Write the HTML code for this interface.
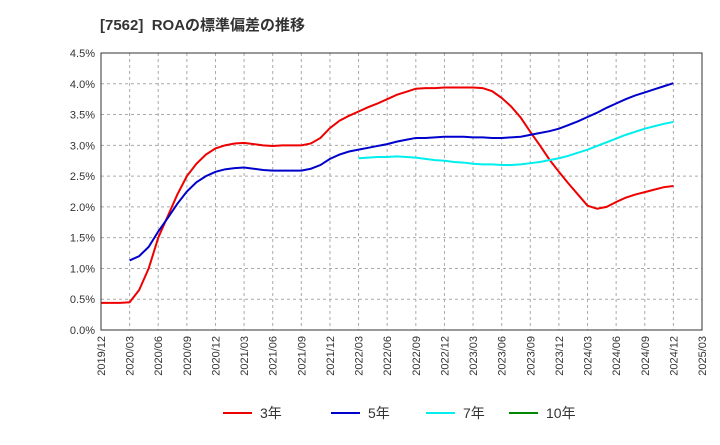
<!DOCTYPE html>
<html><head><meta charset="utf-8"><style>
body{margin:0;background:#fff;font-family:"Liberation Sans","Noto Sans CJK JP",sans-serif;}
</style></head><body>
<svg width="720" height="440" xmlns="http://www.w3.org/2000/svg" font-family="Liberation Sans, Noto Sans CJK JP, sans-serif">
<text x="100" y="30" font-size="15" font-weight="bold" fill="#333">[7562]&#160; ROAの標準偏差の推移</text>
<g id="grid"></g><g id="series"></g><g id="axes"></g>
<g font-size="14" fill="#333">
<line x1="223" y1="413" x2="252" y2="413" stroke="#e00" stroke-width="2"/><text x="260" y="418">3年</text>
<line x1="331" y1="413" x2="360" y2="413" stroke="#00c" stroke-width="2"/><text x="368" y="418">5年</text>
<line x1="426" y1="413" x2="455" y2="413" stroke="#0ee" stroke-width="2"/><text x="463" y="418">7年</text>
<line x1="509" y1="413" x2="538" y2="413" stroke="#080" stroke-width="2"/><text x="546" y="418">10年</text>
</g>
</svg>
<script>
const yTicks=[0,0.5,1,1.5,2,2.5,3,3.5,4,4.5];
const xTickLabels=["2019/12","2020/03","2020/06","2020/09","2020/12","2021/03","2021/06","2021/09","2021/12","2022/03","2022/06","2022/09","2022/12","2023/03","2023/06","2023/09","2023/12","2024/03","2024/06","2024/09","2024/12","2025/03"];
const red=[0.44,0.44,0.44,0.45,0.65,1.0,1.5,1.85,2.2,2.5,2.7,2.85,2.95,3.0,3.03,3.04,3.02,3.0,2.99,3.0,3.0,3.0,3.03,3.12,3.28,3.4,3.48,3.55,3.62,3.68,3.75,3.82,3.87,3.92,3.93,3.93,3.94,3.94,3.94,3.94,3.93,3.88,3.77,3.63,3.45,3.22,3.0,2.77,2.57,2.38,2.2,2.02,1.97,2.0,2.08,2.15,2.2,2.24,2.28,2.32,2.34];
const redStart=0;
const blue=[1.13,1.2,1.35,1.6,1.82,2.05,2.25,2.4,2.5,2.57,2.61,2.63,2.64,2.62,2.6,2.59,2.59,2.59,2.59,2.62,2.68,2.78,2.85,2.9,2.93,2.96,2.99,3.02,3.06,3.09,3.12,3.12,3.13,3.14,3.14,3.14,3.13,3.13,3.12,3.12,3.13,3.14,3.17,3.2,3.23,3.27,3.33,3.39,3.46,3.53,3.61,3.68,3.75,3.81,3.86,3.91,3.96,4.01];
const blueStart=3;
const cyan=[2.79,2.8,2.81,2.81,2.82,2.81,2.8,2.78,2.76,2.75,2.73,2.72,2.7,2.69,2.69,2.68,2.68,2.69,2.71,2.73,2.76,2.79,2.83,2.88,2.93,2.99,3.05,3.11,3.17,3.22,3.27,3.31,3.35,3.38];
const cyanStart=27;
const green=[];
const greenStart=0;

const X0=101,X1=702,Y0=330,Y1=53,NM=63;
const xs=m=>X0+(X1-X0)*m/NM;
const ys=v=>Y0-(Y0-Y1)*v/4.5;
const NS="http://www.w3.org/2000/svg";
function mk(t,a,p){const e=document.createElementNS(NS,t);for(const k in a)e.setAttribute(k,a[k]);p.appendChild(e);return e;}
const grid=document.getElementById('grid'),axes=document.getElementById('axes'),ser=document.getElementById('series');
mk('rect',{x:X0,y:Y1,width:X1-X0,height:Y0-Y1,fill:'#fff',stroke:'#333'},grid);
yTicks.forEach(v=>{
 const l=mk('line',{x1:X0,x2:X1,y1:ys(v),y2:ys(v),stroke:'#aaa','stroke-dasharray':'3,3'},grid);
 
 
 const t=mk('text',{x:X0-6,y:ys(v)+4,'text-anchor':'end','font-size':11,fill:'#333'},axes);
 t.textContent=v.toFixed(1)+'%';
 
 
});
xTickLabels.forEach((s,i)=>{
 const x=xs(i*3);
 const l=mk('line',{x1:x,x2:x,y1:Y1,y2:Y0,stroke:'#aaa','stroke-dasharray':'3,3'},grid);
 
 
 const t=mk('text',{x:0,y:0,'text-anchor':'end','font-size':11,fill:'#333',transform:`translate(${x+4},${Y0+6}) rotate(-90)`},axes);
 t.textContent=s;
 
 
});
mk('rect',{x:X0,y:Y1,width:X1-X0,height:Y0-Y1,fill:'none',stroke:'#333'},axes);
function line(arr,start,col,name){
 if(!arr.length)return;
 const p=mk('polyline',{points:arr.map((v,i)=>xs(start+i)+','+ys(v)).join(' '),fill:'none',stroke:col,'stroke-width':2},ser);
 
 
}
line(red,redStart,'#e00','series-3y');
line(blue,blueStart,'#00c','series-5y');
line(cyan,cyanStart,'#0ee','series-7y');
line(green,greenStart,'#080','series-10y');
</script>
</body></html>
